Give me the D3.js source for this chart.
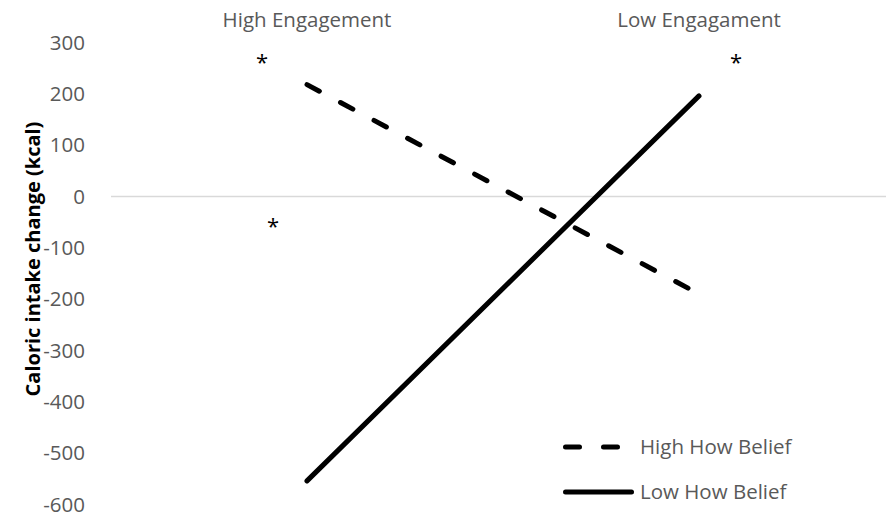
<!DOCTYPE html>
<html lang="en">
<head>
    <meta charset="UTF-8">
    <title>Caloric intake change</title>
    <style>
        body { margin: 0; background: #fff; }
        text { font-family: "Open Sans", sans-serif; }
    </style>
</head>
<body>
    <script src="https://d3js.org/d3.v7.min.js"></script>
    <div id="chart"></div>
    <script>
    // data
    const categories = ["High Engagement", "Low Engagament"]
    const seriesNames = ["High How Belief", "Low How Belief"]
    const highHowBelief = [218, -190]
    const lowHowBelief = [-554, 196]
    const yTicks = [300, 200, 100, 0, -100, -200, -300, -400, -500, -600]
    // significance stars: category + value
    const stars = [
        { cat: "High Engagement", value: 270, dx: -45 },
        { cat: "High Engagement", value: -50, dx: -34 },
        { cat: "Low Engagament", value: 270, dx: 37 }
    ]

    const W = 886, H = 518
    const MARGIN = { LEFT: 111, RIGHT: -9, TOP: 42.5, BOTTOM: 13.5 }
    const FONT = "20.5px"

    const svg = d3.select("#chart")
        .append("svg")
        .attr("width", W)
        .attr("height", H)

    const x = d3.scaleBand()
        .domain(categories)
        .range([MARGIN.LEFT, W - MARGIN.RIGHT])
    const xc = d => x(d) + x.bandwidth() / 2

    const y = d3.scaleLinear()
        .domain([-600, 300])
        .range([H - MARGIN.BOTTOM, MARGIN.TOP])

    // zero line (category axis)
    svg.append("line")
        .attr("x1", MARGIN.LEFT).attr("x2", W - MARGIN.RIGHT)
        .attr("y1", y(0)).attr("y2", y(0))
        .style("stroke", "#d9d9d9")
        .style("stroke-width", 1.5)

    // y axis labels (plain hyphen minus, like the original)
    const yAxis = d3.axisLeft(y).tickValues(yTicks).tickSize(0).tickPadding(0)
        .tickFormat(d => String(d))
    const ya = svg.append("g")
        .attr("transform", `translate(85,0)`)
        .call(yAxis)
    ya.select(".domain").remove()
    ya.selectAll("text")
        .style("font-family", "Open Sans")
        .style("font-size", FONT)
        .style("fill", "#595959")

    // category labels at the top
    const xAxis = d3.axisTop(x).tickSize(0).tickPadding(0)
    const xa = svg.append("g")
        .attr("transform", `translate(0,27)`)
        .call(xAxis)
    xa.select(".domain").remove()
    xa.selectAll("text")
        .attr("dy", 0)
        .style("font-family", "Open Sans")
        .style("font-size", FONT)
        .style("fill", "#595959")

    // y title
    svg.append("text")
        .attr("transform", `translate(40,259) rotate(-90)`)
        .attr("text-anchor", "middle")
        .style("font-size", "20px")
        .style("font-weight", "bold")
        .style("fill", "#000")
        .text("Caloric intake change (kcal)")

    // lines
    const series = [
        { name: seriesNames[0], values: highHowBelief, dash: "14,24" },
        { name: seriesNames[1], values: lowHowBelief, dash: null }
    ]
    const line = d3.line()
        .x((d, i) => xc(categories[i]))
        .y(d => y(d))

    series.forEach(s => {
        svg.append("path")
            .datum(s.values)
            .attr("d", line)
            .style("fill", "none")
            .style("stroke", "#000")
            .style("stroke-width", 5)
            .style("stroke-linecap", "round")
            .style("stroke-dasharray", s.dash)
    })

    // stars
    svg.selectAll(".star")
        .data(stars)
        .join("text")
        .attr("class", "star")
        .attr("x", d => xc(d.cat) + d.dx)
        .attr("y", d => y(d.value) + 12)
        .attr("text-anchor", "middle")
        .style("font-size", "22px")
        .style("fill", "#000")
        .text("*")

    // legend
    const legend = svg.append("g").attr("transform", "translate(565.5,447)")
    series.forEach((s, i) => {
        const row = legend.append("g").attr("transform", `translate(0,${i * 45})`)
        row.append("line")
            .attr("x1", 0).attr("x2", 66)
            .style("stroke", "#000")
            .style("stroke-width", 5)
            .style("stroke-linecap", "round")
            .style("stroke-dasharray", s.dash)
        row.append("text")
            .attr("x", 74.5)
            .attr("dy", "0.35em")
            .style("font-size", FONT)
            .style("fill", "#595959")
            .text(s.name)
    })
    </script>
</body>
</html>
